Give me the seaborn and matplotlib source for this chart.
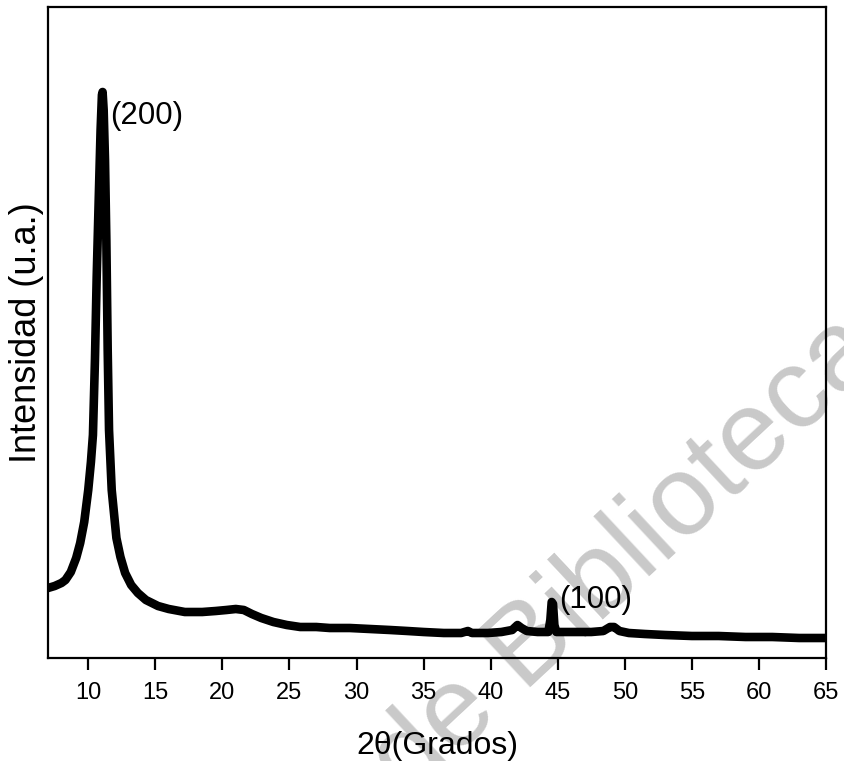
import matplotlib
matplotlib.use("Agg")
import matplotlib.pyplot as plt
import numpy as np
import pandas as pd
import seaborn as sns

# XRD pattern: diffraction angle (degrees 2-theta) and intensity (arbitrary units)
two_theta = [
    7.0, 7.5, 8.0, 8.3, 8.7, 9.1, 9.4, 9.7, 10.0, 10.2, 10.35, 10.5, 10.63,
    10.78, 10.92, 11.02, 11.07, 11.15, 11.25, 11.35, 11.45, 11.55, 11.75,
    12.1, 12.4, 12.75, 13.2, 13.7, 14.3, 15.2, 16.0, 17.2, 18.5, 19.5, 20.3,
    21.0, 21.6, 22.2, 22.9, 23.8, 24.8, 25.8, 27.0, 28.0, 29.5, 31.0, 32.5,
    33.8, 35.0, 36.5, 37.8, 38.3, 38.6, 39.8, 40.8, 41.6, 42.0, 42.3, 42.7,
    43.5, 44.3, 44.45, 44.55, 44.65, 44.75, 44.9, 46.0, 47.5, 48.4, 48.9,
    49.2, 49.6, 50.3, 51.5, 53.0, 55.0, 57.0, 59.0, 61.0, 63.0, 65.0,
]
intensity = [
    700, 720, 750, 780, 860, 1000, 1150, 1360, 1680, 1960, 2230, 2980, 3810,
    4580, 5280, 5630, 5660, 5480, 4980, 4180, 3080, 2280, 1680,
    1200, 1010, 850, 730, 650, 580, 520, 490, 460, 460, 470, 480,
    490, 480, 440, 400, 360, 330, 310, 310, 300, 300, 290, 280,
    270, 260, 250, 250, 270, 250, 250, 260, 280, 330, 300, 270,
    260, 260, 380, 560, 540, 330, 260, 260, 260, 270, 310,
    310, 270, 250, 240, 230, 220, 220, 210, 210, 200, 200,
]

x_ticks = [10, 15, 20, 25, 30, 35, 40, 45, 50, 55, 60, 65]

# Miller-index labels, placed at the start of each text baseline
peak_labels = ["(200)", "(100)"]
peak_label_x = [11.62, 45.12]
peak_label_y = [5340, 500]

x_label = "2\u03b8(Grados)"
y_label = "Intensidad (u.a.)"
watermark = "de Bibliotecas"

sns.set_theme(style="ticks")
plt.rcParams["font.family"] = ["Liberation Sans", "DejaVu Sans"]

fig = plt.figure(figsize=(8.44, 7.61), dpi=100)
fig.patch.set_facecolor("white")
ax = fig.add_axes([48 / 844, 103 / 761, 778 / 844, 651 / 761])
ax.set_facecolor("none")

df = pd.DataFrame({"two_theta": two_theta, "intensity": intensity})
sns.lineplot(
    data=df, x="two_theta", y="intensity", ax=ax, color="black",
    linewidth=6.2, estimator=None, sort=True,
    solid_joinstyle="round", solid_capstyle="round",
)

ax.set_xlim(7, 65)
ax.set_ylim(0, 6510)
ax.set_xticks(x_ticks)
ax.set_xticklabels([str(t) for t in x_ticks])
ax.set_yticks([])

for side in ["left", "right", "top", "bottom"]:
    ax.spines[side].set_visible(True)
    ax.spines[side].set_color("black")
    ax.spines[side].set_linewidth(1.6)

ax.tick_params(axis="x", direction="out", length=8.6, width=1.6,
               colors="black", labelsize=17, pad=9)

ax.set_xlabel(x_label, fontsize=23, labelpad=19, color="black")
ax.set_ylabel(y_label, fontsize=26, labelpad=3, color="black")

for txt, px, py in zip(peak_labels, peak_label_x, peak_label_y):
    ax.text(px, py, txt, fontsize=22.5, ha="left", va="baseline", color="black")

# faint diagonal watermark behind the axes
fig.text(408 / 844, -40 / 761, watermark, rotation=43, rotation_mode="anchor",
         ha="left", va="baseline", fontsize=82, color="#c9c9c9", zorder=-1)

fig.savefig("out.png", dpi=100)
